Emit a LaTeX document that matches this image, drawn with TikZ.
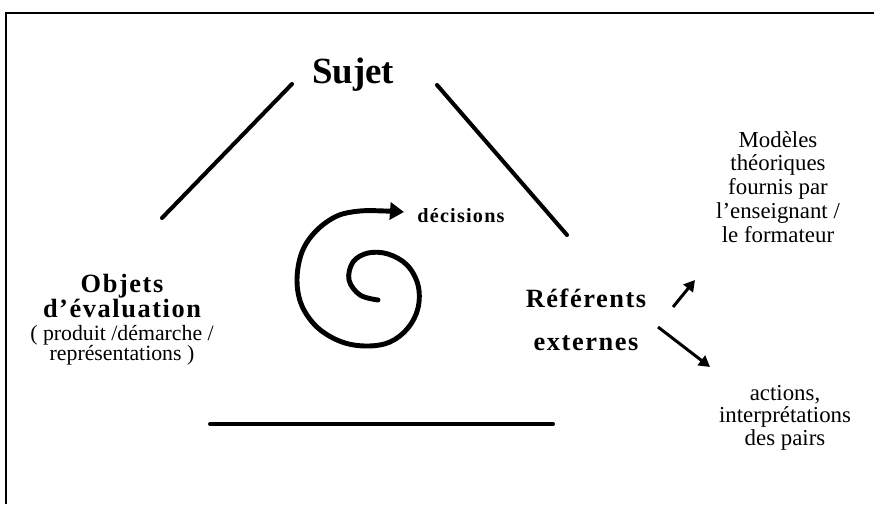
\documentclass[tikz,border=0pt]{standalone}
\usepackage{fontspec}
\setmainfont{Liberation Serif}
\newfontfamily\spaced[LetterSpace=6]{Liberation Serif}
\usetikzlibrary{arrows.meta}
% keep the tight line spacing of the original
\newcommand\tightlines{\lineskiplimit=-20pt\lineskip=0pt}

\begin{document}
\begin{tikzpicture}[x=0.02cm, y=-0.02cm,
    side/.style={line width=2.3pt, line cap=round},
    title/.style={font=\fontsize{15}{14.2}\selectfont\spaced\bfseries\tightlines,
                  align=center, anchor=base, inner sep=0pt},
    plain/.style={font=\fontsize{13}{13.5}\selectfont\tightlines, align=center,
                  anchor=base, inner sep=0pt},
    tip/.style={-{Triangle[length=2.2mm, width=2.4mm]}, line width=1.7pt}
]
    \useasboundingbox (0,0) rectangle (874,504);
    \draw[line width=1.6pt] (874,13) -- (6,13) -- (6,504);

    % the three poles (base = last line)
    \node[title, font=\fontsize{21}{21}\selectfont\bfseries] (sujet) at (353,83) {Sujet};
    \node[title] (objets) at (122,317) {Objets\\ d’évaluation};
    \node[plain, font=\fontsize{12.4}{11}\selectfont\tightlines] (detail) at (122,360)
        {( produit /démarche /\\ représentations )};
    \node[title, font=\fontsize{15}{24}\selectfont\spaced\bfseries] (referents) at (586,350)
        {Référents\\ externes};
    \node[title, font=\fontsize{11.5}{12}\selectfont\spaced\bfseries] (decisions) at (461,222) {décisions};
    \node[plain] (modeles) at (778,242)
        {Modèles\\ théoriques\\ fournis par\\ l’enseignant /\\ le formateur};
    \node[plain, font=\fontsize{13}{12.8}\selectfont\tightlines] (actions) at (785,445)
        {actions,\\ interprétations\\ des pairs};

    % triangle
    \coordinate (topleft)  at (292,84);
    \coordinate (left)     at (162,218);
    \coordinate (topright) at (437,85);
    \coordinate (right)    at (567,235);
    \coordinate (baseL)    at (210,424);
    \coordinate (baseR)    at (553,424);
    \draw[side] (topleft) -- (left);
    \draw[side] (topright) -- (right);
    \draw[side] (baseL) -- (baseR);

    % spiral
    \draw[line width=2.8pt, line cap=round, -{Triangle[length=2.8mm, width=3.4mm]}]
        plot[smooth, tension=0.6] coordinates {
        (378,300) (360,295) (349,280) (353,262) (368,253) (388,254) (407,265)
        (418,285) (418,308) (408,328) (390,342) (367,346) (342,342) (318,328)
        (302,306) (297,280) (302,252) (316,231) (337,216) (360,211) (385,211)
        (404,212)};

    % outgoing arrows
    \coordinate (upfrom)   at (673,307);
    \coordinate (upto)     at (695,280);
    \coordinate (downfrom) at (658,327);
    \coordinate (downto)   at (710,367);
    \draw[tip] (upfrom) -- (upto);
    \draw[tip] (downfrom) -- (downto);
\end{tikzpicture}
\end{document}
